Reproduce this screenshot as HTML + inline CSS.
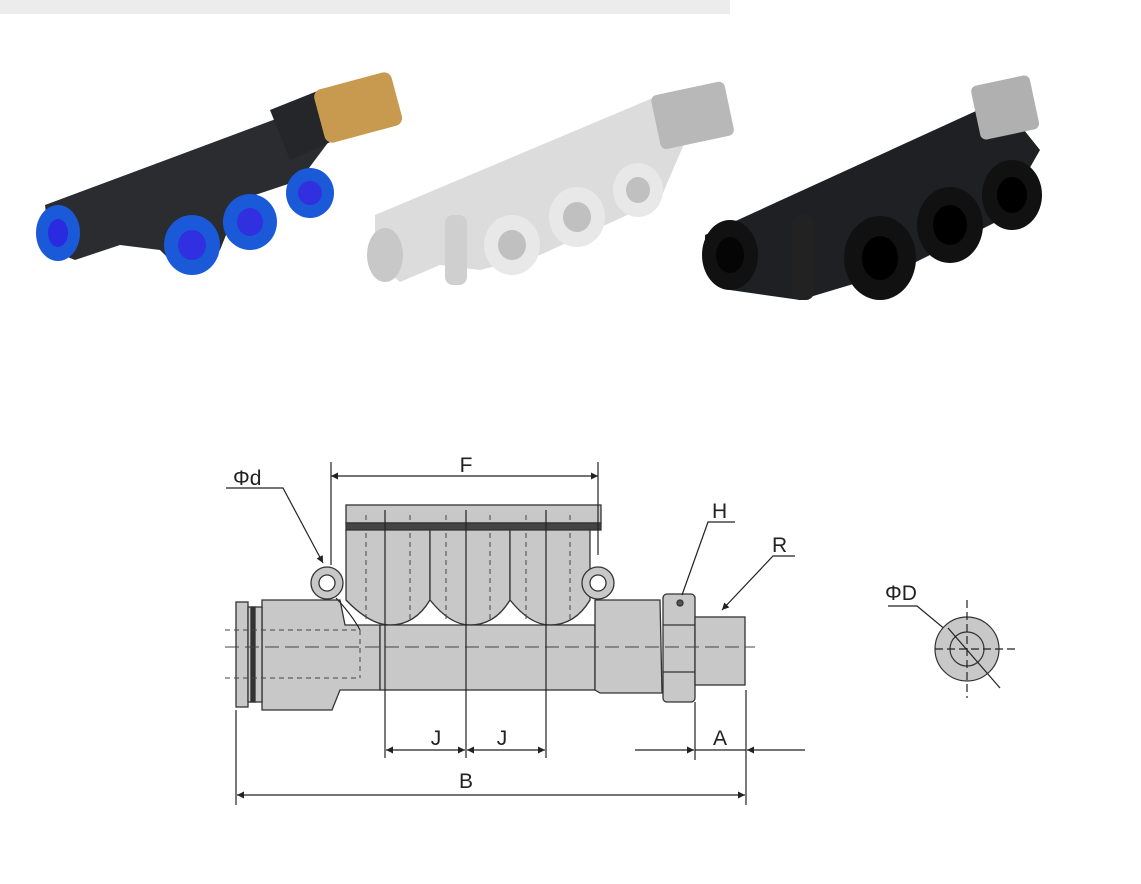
<!DOCTYPE html>
<html><head><style>
html,body{margin:0;padding:0;background:#fff;}
svg{display:block;font-family:"Liberation Sans",sans-serif;}
</style></head><body>
<svg width="1141" height="884" viewBox="0 0 1141 884" xmlns="http://www.w3.org/2000/svg">
<defs>
<marker id="ar" viewBox="0 0 10 10" refX="10" refY="5" markerWidth="14" markerHeight="7" orient="auto-start-reverse" markerUnits="userSpaceOnUse"><path d="M0,0L10,5L0,10z" fill="#222"/></marker>
</defs>
<rect x="0" y="0" width="730" height="14" fill="#ececec"/>
<!-- Photo 1: blue/black -->
<g>
<path d="M45,205 L300,110 L330,140 L300,180 L240,200 L220,250 L180,270 L160,250 L120,245 L75,260 L50,250z" fill="#2a2c30"/>
<path d="M270,110 L320,90 L335,140 L290,160z" fill="#24262a"/>
<rect x="318" y="80" width="80" height="55" rx="8" fill="#c89a50" transform="rotate(-15 358 107)"/>
<ellipse cx="58" cy="233" rx="22" ry="28" fill="#1a5ad8"/><ellipse cx="58" cy="233" rx="10" ry="14" fill="#2a2ae0"/>
<ellipse cx="192" cy="245" rx="28" ry="30" fill="#1a5ad8"/><ellipse cx="192" cy="245" rx="14" ry="15" fill="#3030e0"/>
<ellipse cx="250" cy="222" rx="27" ry="28" fill="#1a5ad8"/><ellipse cx="250" cy="222" rx="13" ry="14" fill="#3030e0"/>
<ellipse cx="310" cy="193" rx="24" ry="25" fill="#1a5ad8"/><ellipse cx="310" cy="193" rx="12" ry="12" fill="#3030e0"/>
</g>
<!-- Photo 2: white -->
<g>
<path d="M375,215 L660,95 L690,130 L660,200 L540,255 L480,270 L440,265 L400,282 L375,260z" fill="#dcdcdc"/>
<rect x="655" y="88" width="75" height="55" rx="6" fill="#b8b8b8" transform="rotate(-12 692 115)"/>
<ellipse cx="385" cy="255" rx="18" ry="27" fill="#c8c8c8"/>
<rect x="445" y="215" width="22" height="70" rx="8" fill="#cfcfcf"/>
<ellipse cx="512" cy="245" rx="28" ry="30" fill="#e8e8e8"/><ellipse cx="512" cy="245" rx="14" ry="15" fill="#c0c0c0"/>
<ellipse cx="577" cy="217" rx="28" ry="30" fill="#e8e8e8"/><ellipse cx="577" cy="217" rx="14" ry="15" fill="#c0c0c0"/>
<ellipse cx="638" cy="190" rx="25" ry="27" fill="#e8e8e8"/><ellipse cx="638" cy="190" rx="12" ry="13" fill="#c0c0c0"/>
</g>
<!-- Photo 3: black -->
<g>
<path d="M705,235 L1000,100 L1040,150 L1000,220 L900,270 L800,300 L730,290 L705,270z" fill="#1e2024"/>
<rect x="975" y="80" width="60" height="55" rx="6" fill="#b0b0b0" transform="rotate(-12 1005 107)"/>
<ellipse cx="730" cy="255" rx="28" ry="35" fill="#111"/><ellipse cx="730" cy="255" rx="14" ry="18" fill="#050505"/>
<rect x="792" y="215" width="22" height="85" rx="8" fill="#222"/>
<ellipse cx="880" cy="258" rx="36" ry="42" fill="#111"/><ellipse cx="880" cy="258" rx="18" ry="22" fill="#000"/>
<ellipse cx="950" cy="225" rx="33" ry="38" fill="#111"/><ellipse cx="950" cy="225" rx="17" ry="20" fill="#000"/>
<ellipse cx="1012" cy="195" rx="30" ry="35" fill="#111"/><ellipse cx="1012" cy="195" rx="15" ry="18" fill="#000"/>
</g>

<!-- Drawing -->
<g stroke="#333" stroke-width="1.3" fill="#c8c8c8">
<rect x="346" y="505" width="255" height="18" />
<rect x="346" y="523" width="255" height="7" fill="#444"/>
<path d="M346,530 L346,600 Q370,625 390,625 Q415,625 430,600 L430,530z"/>
<path d="M430,530 L430,600 Q450,625 470,625 Q495,625 510,600 L510,530z"/>
<path d="M510,530 L510,600 Q530,625 550,625 Q575,625 590,600 L590,530z"/>
<path d="M262,600 L340,600 L345,625 L380,625 L380,690 L340,690 L332,710 L262,710z"/>
<rect x="380" y="625" width="215" height="65"/>
<path d="M595,600 L660,600 L662,693 L600,693 L595,690z"/>
<rect x="236" y="602" width="12" height="105"/>
<rect x="248" y="607" width="14" height="95"/>
<rect x="251" y="607" width="4" height="95" fill="#333"/>
<rect x="663" y="594" width="32" height="108" rx="4"/>
<line x1="663" y1="625" x2="695" y2="625"/><line x1="663" y1="672" x2="695" y2="672"/>
<circle cx="680" cy="603" r="3" fill="#555"/>
<rect x="695" y="617" width="50" height="68"/>
<circle cx="327" cy="583" r="16"/><circle cx="327" cy="583" r="8" fill="#fff"/>
<circle cx="598" cy="583" r="16"/><circle cx="598" cy="583" r="8" fill="#fff"/>
</g>
<g stroke="#444" stroke-width="1" fill="none" stroke-dasharray="5,4">
<line x1="225" y1="647" x2="755" y2="647" stroke-dasharray="14,6"/>
<line x1="225" y1="630" x2="360" y2="630"/>
<line x1="225" y1="678" x2="360" y2="678"/>
<line x1="360" y1="630" x2="360" y2="678"/>
<line x1="366" y1="515" x2="366" y2="620"/><line x1="410" y1="515" x2="410" y2="620"/>
<line x1="446" y1="515" x2="446" y2="620"/><line x1="490" y1="515" x2="490" y2="620"/>
<line x1="526" y1="515" x2="526" y2="620"/><line x1="570" y1="515" x2="570" y2="620"/>
</g>
<g stroke="#222" stroke-width="1.2" fill="none">
<line x1="385" y1="510" x2="385" y2="758"/>
<line x1="466" y1="510" x2="466" y2="758"/>
<line x1="546" y1="510" x2="546" y2="758"/>
<line x1="331" y1="462" x2="331" y2="565"/>
<line x1="598" y1="462" x2="598" y2="555"/>
<line x1="331" y1="476" x2="598" y2="476" marker-start="url(#ar)" marker-end="url(#ar)"/>
<line x1="386" y1="750" x2="465" y2="750" marker-start="url(#ar)" marker-end="url(#ar)"/>
<line x1="467" y1="750" x2="545" y2="750" marker-start="url(#ar)" marker-end="url(#ar)"/>
<line x1="236" y1="710" x2="236" y2="805"/>
<line x1="746" y1="690" x2="746" y2="805"/>
<line x1="695" y1="702" x2="695" y2="760"/>
<line x1="237" y1="795" x2="745" y2="795" marker-start="url(#ar)" marker-end="url(#ar)"/>
<line x1="635" y1="750" x2="694" y2="750" marker-end="url(#ar)"/>
<line x1="805" y1="750" x2="747" y2="750" marker-end="url(#ar)"/>
<line x1="695" y1="750" x2="746" y2="750"/>
<polyline points="226,488 283,488 323,563" marker-end="url(#ar)"/>
<path d="M336,598 Q352,615 360,630" />
<polyline points="735,522 708,522 682,595"/>
<polyline points="795,556 773,556 722,610" marker-end="url(#ar)"/>
<polyline points="888,606 917,606 958,640"/>
<circle cx="967" cy="649" r="32" fill="#c8c8c8" stroke="#333"/>
<circle cx="967" cy="649" r="17" fill="#c8c8c8" stroke="#333"/>
<line x1="935" y1="649" x2="1015" y2="649" stroke-dasharray="8,4"/>
<line x1="967" y1="600" x2="967" y2="698" stroke-dasharray="8,4"/>
<line x1="948" y1="628" x2="1000" y2="688"/>
</g>
<g font-size="21" fill="#222">
<text x="233" y="485">Φd</text>
<text x="466" y="472" text-anchor="middle">F</text>
<text x="712" y="518">H</text>
<text x="772" y="552">R</text>
<text x="885" y="600">ΦD</text>
<text x="436" y="745" text-anchor="middle">J</text>
<text x="502" y="745" text-anchor="middle">J</text>
<text x="720" y="745" text-anchor="middle">A</text>
<text x="466" y="788" text-anchor="middle">B</text>
</g>
</svg>
</body></html>
